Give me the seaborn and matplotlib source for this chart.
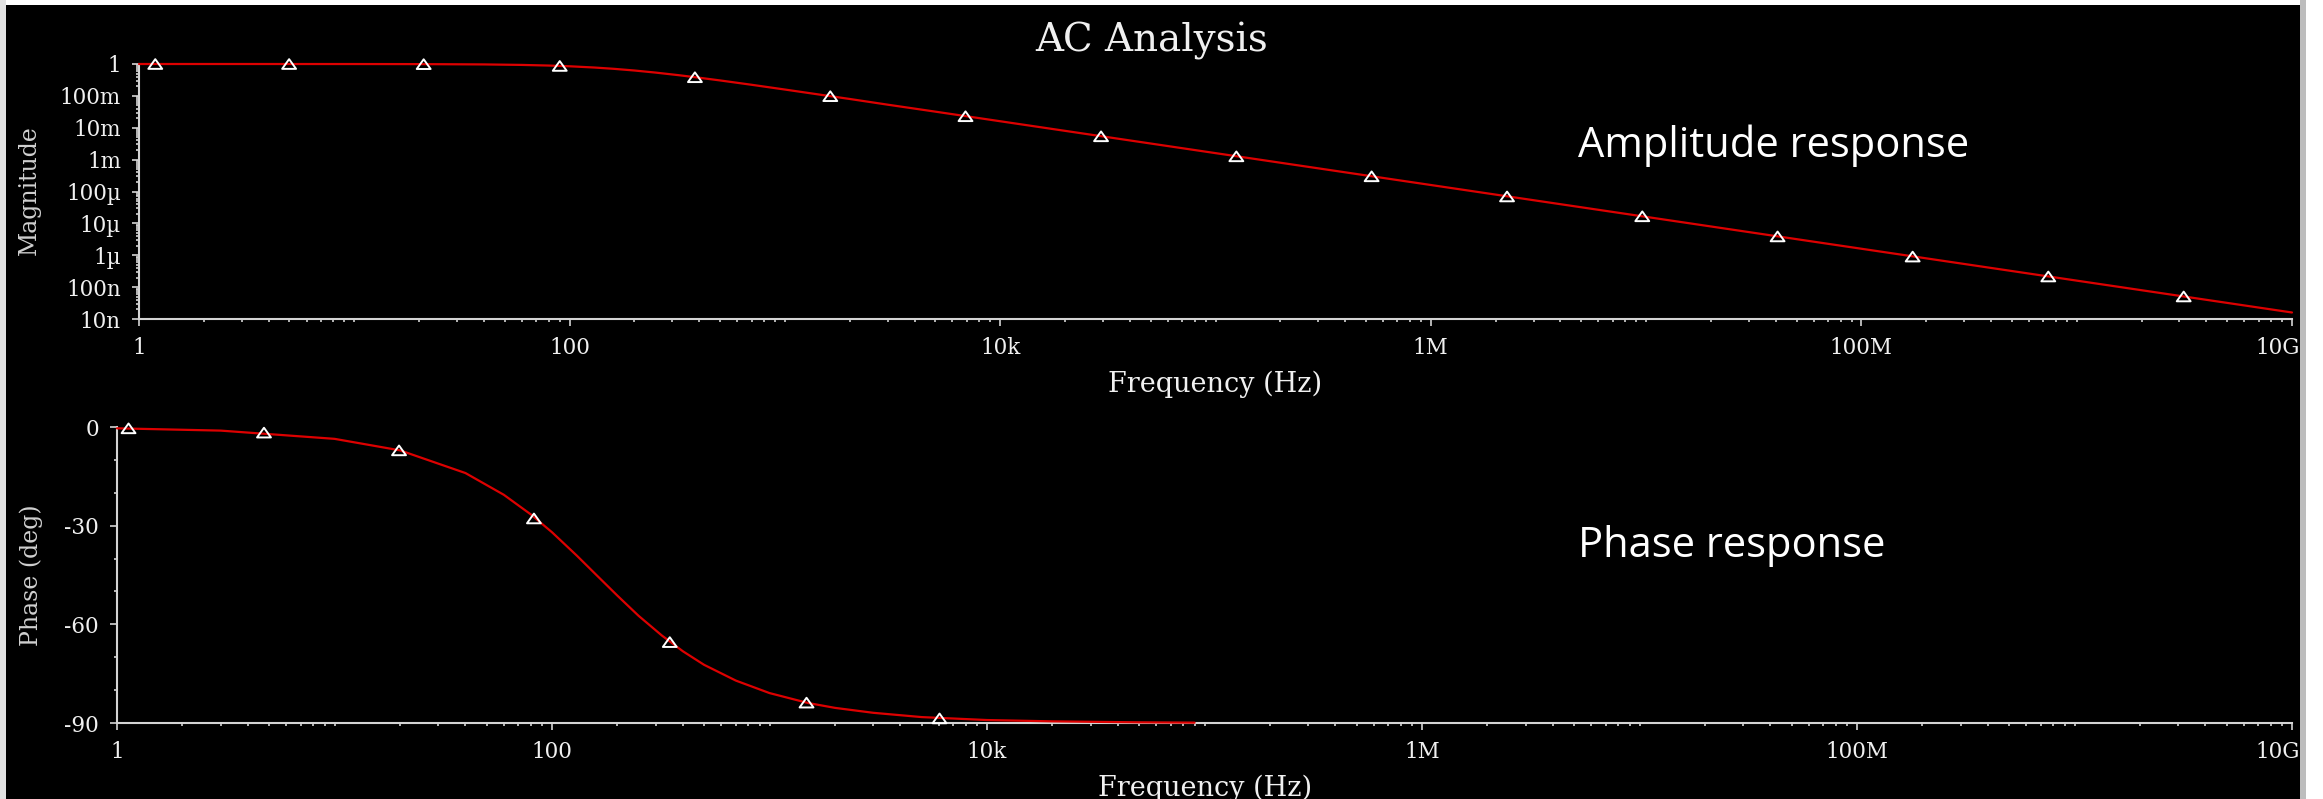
import matplotlib
matplotlib.use("Agg")
import matplotlib.pyplot as plt
import matplotlib.transforms as mtransforms
import seaborn as sns
import numpy as np
from matplotlib.ticker import FixedLocator, FixedFormatter, LogLocator, MultipleLocator, NullFormatter
from matplotlib.patches import Rectangle
from matplotlib.path import Path

# ---------------- data ----------------
# Magnitude trace
mag_freq = [1, 3, 10, 20, 40, 60, 80, 100, 130, 160, 200, 250, 320, 400, 500, 700,
            1e3, 1.5e3, 2e3, 3e3, 5e3, 1e4, 1e5, 1e6, 1e7, 1e8, 1e9, 1e10]
mag_vals = [1.0, 1.0, 0.998, 0.992, 0.970, 0.936, 0.894, 0.848, 0.776, 0.707, 0.625, 0.539,
            0.447, 0.371, 0.305, 0.223, 0.158, 0.106, 0.080, 0.053, 0.032, 0.016,
            1.6e-3, 1.6e-4, 1.6e-5, 1.6e-6, 1.6e-7, 1.6e-8]
# Magnitude trace markers
mag_mk_freq = [1.19, 4.98, 21, 90, 382, 1625, 6900, 29.4e3, 125e3, 531e3, 2.26e6,
               9.6e6, 40.8e6, 173e6, 738e6, 3.14e9]
mag_mk_vals = [1.0, 1.0, 0.99, 0.87, 0.385, 0.098, 0.023, 5.4e-3, 1.27e-3, 3.0e-4, 7.0e-5,
               1.67e-5, 3.9e-6, 9.1e-7, 2.16e-7, 5.1e-8]

# Phase trace
ph_freq = [1, 3, 10, 20, 40, 60, 80, 100, 130, 160, 200, 250, 320, 400, 500, 700,
           1e3, 1.5e3, 2e3, 3e3, 5e3, 1e4, 2e4, 5e4, 9e4]
ph_vals = [-0.4, -1.1, -3.6, -7.1, -14.0, -20.6, -26.6, -32.0, -39.1, -45.0, -51.3, -57.4,
           -63.4, -68.2, -72.3, -77.1, -80.9, -83.9, -85.4, -86.9, -88.2, -89.1, -89.5,
           -89.8, -89.9]
# Phase trace markers
ph_mk_freq = [1.13, 4.74, 19.8, 82.6, 348, 1480, 6050]
ph_mk_vals = [-0.4, -1.7, -7.1, -27.8, -65.4, -83.8, -88.6]

# tick labels
freq_ticks = [1, 1e2, 1e4, 1e6, 1e8, 1e10]
freq_labels = ["1", "100", "10k", "1M", "100M", "10G"]
mag_ticks = [1e-8, 1e-7, 1e-6, 1e-5, 1e-4, 1e-3, 1e-2, 1e-1, 1]
mag_labels = ["10n", "100n", "1\u00b5", "10\u00b5", "100\u00b5", "1m", "10m", "100m", "1"]
ph_ticks = [0, -30, -60, -90]
ph_labels = ["0", "-30", "-60", "-90"]

# ---------------- style ----------------
sns.set_theme(style="dark")
plt.rcParams['font.family'] = ['DejaVu Serif', 'DejaVu Sans']

W, H = 2323, 799
BG = "black"
AXIS = "#d4d4d4"
TXT = "#f0f0f0"
RED = "#dd0000"

fig = plt.figure(figsize=(W / 100, H / 100), dpi=100, facecolor=BG)

ax1 = fig.add_axes([139 / W, 1 - 319 / H, (2292 - 139) / W, (319 - 64) / H])
ax2 = fig.add_axes([117 / W, 1 - 723 / H, (2292 - 117) / W, (723 - 427) / H])

tri = Path([(-1, -0.7), (1, -0.7), (0, 0.7), (-1, -0.7)],
           [Path.MOVETO, Path.LINETO, Path.LINETO, Path.CLOSEPOLY])

for ax in (ax1, ax2):
    ax.set_facecolor(BG)
    ax.grid(False)
    for s in ("top", "right"):
        ax.spines[s].set_visible(False)
    for s in ("left", "bottom"):
        ax.spines[s].set_visible(True)
        ax.spines[s].set_color(AXIS)
        ax.spines[s].set_linewidth(1.5)
    ax.set_xscale("log")
    ax.set_xlim(1, 1e10)

ax1.set_yscale("log")
ax1.set_ylim(1e-8, 1)
ax2.set_ylim(-90, 0)

# traces
sns.lineplot(x=mag_freq, y=mag_vals, ax=ax1, color=RED, linewidth=1.6,
             estimator=None, clip_on=False, zorder=3, legend=False)
sns.scatterplot(x=mag_mk_freq, y=mag_mk_vals, ax=ax1, marker=tri, s=100,
                facecolor="none", edgecolor="white", linewidth=1.4,
                clip_on=False, zorder=4, legend=False)

sns.lineplot(x=ph_freq, y=ph_vals, ax=ax2, color=RED, linewidth=1.6,
             estimator=None, clip_on=False, zorder=3, legend=False)
sns.scatterplot(x=ph_mk_freq, y=ph_mk_vals, ax=ax2, marker=tri, s=100,
                facecolor="none", edgecolor="white", linewidth=1.4,
                clip_on=False, zorder=4, legend=False)

# ticks
for ax in (ax1, ax2):
    ax.xaxis.set_major_locator(FixedLocator(freq_ticks))
    ax.xaxis.set_major_formatter(FixedFormatter(freq_labels))
    ax.xaxis.set_minor_locator(LogLocator(base=10, subs=np.arange(1, 10), numticks=200))
    ax.xaxis.set_minor_formatter(NullFormatter())
    ax.tick_params(which="both", direction="out", bottom=True, left=True,
                   color=AXIS, labelcolor=TXT)
    ax.tick_params(which="major", length=5, width=1.2, labelsize=15.5, pad=8)
    ax.tick_params(which="minor", length=2.4, width=1.2)

ax1.yaxis.set_major_locator(FixedLocator(mag_ticks))
ax1.yaxis.set_major_formatter(FixedFormatter(mag_labels))
ax1.yaxis.set_minor_locator(LogLocator(base=10, subs=np.arange(2, 10), numticks=200))
ax1.yaxis.set_minor_formatter(NullFormatter())

ax2.yaxis.set_major_locator(FixedLocator(ph_ticks))
ax2.yaxis.set_major_formatter(FixedFormatter(ph_labels))
ax2.yaxis.set_minor_locator(MultipleLocator(10))
ax2.yaxis.set_minor_formatter(NullFormatter())

# last frequency label ("10G") sits left of its tick, against the window border
fig.canvas.draw()
shift = mtransforms.ScaledTranslation(8 / 100, 0, fig.dpi_scale_trans)
for ax in (ax1, ax2):
    lab = ax.xaxis.get_majorticklabels()[-1]
    lab.set_horizontalalignment("right")
    lab.set_transform(lab.get_transform() + shift)

# axis labels
ax1.set_ylabel("Magnitude", fontsize=17, color="#d0d0d0", va="center", ha="center")
ax1.yaxis.set_label_coords(29 / W, 1 - 190 / H, transform=fig.transFigure)
ax2.set_ylabel("Phase (deg)", fontsize=17, color="#d0d0d0", va="center", ha="center")
ax2.yaxis.set_label_coords(31 / W, 1 - 575 / H, transform=fig.transFigure)

ax1.set_xlabel("Frequency (Hz)", fontsize=19.5, color=TXT, va="baseline", ha="center")
ax1.xaxis.set_label_coords(1215 / W, 1 - 392 / H, transform=fig.transFigure)
ax2.set_xlabel("Frequency (Hz)", fontsize=19.5, color=TXT, va="baseline", ha="center")
ax2.xaxis.set_label_coords(1205 / W, 1 - 796 / H, transform=fig.transFigure)

# title and annotations
fig.text(1152 / W, 1 - 51 / H, "AC Analysis", fontsize=28, color=TXT,
         ha="center", va="baseline")
fig.text(1578 / W, 1 - 157 / H, "Amplitude response", fontsize=30, color="white",
         family=["Open Sans", "DejaVu Sans"], ha="left", va="baseline")
fig.text(1578 / W, 1 - 557 / H, "Phase response", fontsize=30, color="white",
         family=["Open Sans", "DejaVu Sans"], ha="left", va="baseline")

# screenshot borders
fig.add_artist(Rectangle((0, 1 - 5 / H), 1, 5 / H, transform=fig.transFigure,
                         facecolor="white", edgecolor="none", zorder=20))
fig.add_artist(Rectangle((0, 0), 6 / W, 1, transform=fig.transFigure,
                         facecolor="#e2e2e2", edgecolor="none", zorder=20))
fig.add_artist(Rectangle((2300 / W, 0), 6 / W, 1, transform=fig.transFigure,
                         facecolor="#bdbdbd", edgecolor="none", zorder=20))
fig.add_artist(Rectangle((2306 / W, 0), 17 / W, 1, transform=fig.transFigure,
                         facecolor="white", edgecolor="none", zorder=20))

fig.savefig("out.png", dpi=100, facecolor=BG)
